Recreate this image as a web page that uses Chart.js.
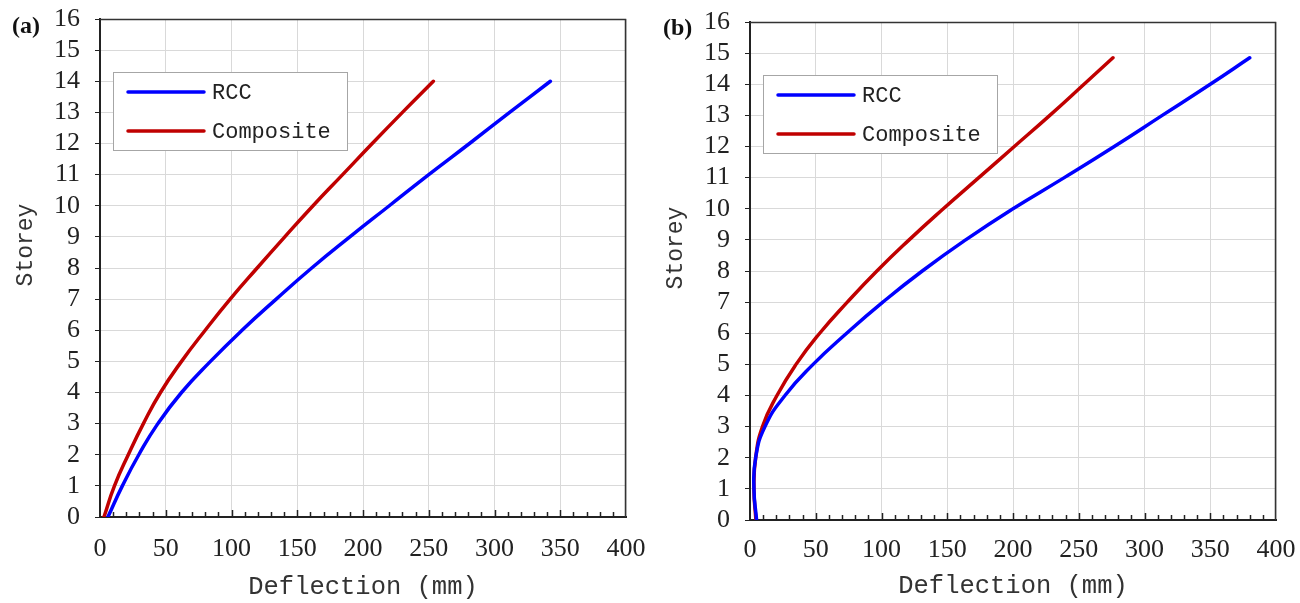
<!DOCTYPE html>
<html>
<head>
<meta charset="utf-8">
<title>Storey deflection: RCC vs Composite</title>
<script src="https://cdn.jsdelivr.net/npm/chart.js@4.4.1/dist/chart.umd.min.js"></script>
<style>
    html, body { margin: 0; padding: 0; background: #fff; }
    #wrap { position: relative; width: 1300px; height: 603px; }
    .panel { position: absolute; top: 0; width: 650px; height: 603px; }
    .tag { position: absolute; font: bold 24px "Liberation Serif", "Times New Roman", serif; color: #111; line-height: 28px; }
</style>
</head>
<body>
<div id="wrap">
    <div class="panel" style="left:0"><canvas id="chartA" width="650" height="603"></canvas></div>
    <div class="panel" style="left:650px"><canvas id="chartB" width="650" height="603"></canvas></div>
    <div class="tag" style="left:12px;top:11px">(a)</div>
    <div class="tag" style="left:663px;top:13px">(b)</div>
</div>
<script>
// Panel (a) data: storey level and deflection (mm)
const storeysA    = [0, 1, 2, 3, 4, 5, 6, 7, 8, 9, 10, 11, 12, 13, 14];
const rccA        = [6, 17, 29.5, 44, 62, 84, 108, 134, 161, 190, 220, 250, 281, 311.5, 342.5];
const compositeA  = [3, 11, 21.5, 33, 46, 62, 80, 99, 119.5, 140.5, 162, 184.5, 207, 230, 253.5];

// Panel (b) data
const storeysB    = [0, 1, 2, 3, 4, 5, 6, 7, 8, 9, 10, 11, 12, 13, 14, 14.85];
const rccB        = [5, 3, 4.3, 11.4, 26.6, 48, 73.5, 101, 131, 164, 200, 239, 277, 313.5, 350, 380];
const compositeB  = [4.5, 3, 4.3, 9.5, 20.5, 35, 53, 74, 96.5, 121, 147, 174, 201, 228, 254, 276];

// Series and axis settings
const seriesLabels = ['RCC', 'Composite'];
const seriesColors = ['#0000ff', '#c00000'];
const xTitle = 'Deflection (mm)';
const yTitle = 'Storey';
const xMax = 400, xMajor = 50, xMinor = 10;
const yMax = 16, yStep = 1;

const TICK_FONT = '"Liberation Serif", "Times New Roman", serif';
const MONO_FONT = '"Liberation Mono", "Courier New", monospace';

// Inward ticks on the bottom axis, top/right frame edges and the y title
const framePlugin = {
    id: 'frame',
    afterDraw(chart) {
        const { ctx, chartArea: a, scales: { x } } = chart;
        ctx.save();
        ctx.strokeStyle = '#222';
        ctx.lineWidth = 1.5;
        for (let v = xMinor; v < xMax; v += xMinor) {
            const px = Math.round(x.getPixelForValue(v)) + 0.5;
            const len = v % xMajor === 0 ? 7 : 5;
            ctx.beginPath();
            ctx.moveTo(px, a.bottom);
            ctx.lineTo(px, a.bottom - len);
            ctx.stroke();
        }
        ctx.strokeStyle = '#333';
        ctx.beginPath();
        ctx.moveTo(a.left, a.top + 0.5);
        ctx.lineTo(a.right - 0.5, a.top + 0.5);
        ctx.lineTo(a.right - 0.5, a.bottom);
        ctx.stroke();

        // y axis title sits a little above the middle of the axis
        ctx.translate(26, (a.top + a.bottom) / 2 - 23);
        ctx.rotate(-Math.PI / 2);
        ctx.font = '23px ' + MONO_FONT;
        ctx.fillStyle = '#333';
        ctx.textAlign = 'center';
        ctx.textBaseline = 'middle';
        ctx.fillText(yTitle, 0, 0);
        ctx.restore();
    }
};

// Boxed legend inside the plot, upper left
const legendBoxPlugin = {
    id: 'legendBox',
    afterDraw(chart) {
        const { ctx, chartArea: a } = chart;
        const left = a.left + 13, top = a.top + 53, w = 234, h = 78;
        ctx.save();
        ctx.fillStyle = '#fff';
        ctx.fillRect(left, top, w, h);
        ctx.strokeStyle = '#a6a6a6';
        ctx.lineWidth = 1;
        ctx.strokeRect(left + 0.5, top + 0.5, w, h);
        ctx.font = '22px ' + MONO_FONT;
        ctx.textBaseline = 'middle';
        chart.data.datasets.forEach((ds, i) => {
            const y = top + 20 + i * 39;
            ctx.strokeStyle = ds.borderColor;
            ctx.lineWidth = 3.5;
            ctx.lineCap = 'round';
            ctx.beginPath();
            ctx.moveTo(left + 15, y);
            ctx.lineTo(left + 91, y);
            ctx.stroke();
            ctx.fillStyle = '#222';
            ctx.fillText(ds.label, left + 99, y + 1);
        });
        ctx.restore();
    }
};

function toPoints(xs, ys) {
    return xs.map((v, i) => ({ x: v, y: ys[i] }));
}

// Create one deflection panel
function createPanel(canvasId, storeys, rcc, composite, layout) {
    const ctx = document.getElementById(canvasId).getContext('2d');
    return new Chart(ctx, {
        type: 'line',
        data: {
            datasets: [rcc, composite].map((vals, i) => ({
                label: seriesLabels[i],
                data: toPoints(vals, storeys),
                tension: 0.5,
                fill: false,
                borderColor: seriesColors[i],
                backgroundColor: seriesColors[i],
                borderWidth: 3.5,
                pointRadius: 0,
                borderCapStyle: 'round',
                borderJoinStyle: 'round'
            }))
        },
        options: {
            responsive: false,
            animation: false,
            layout: { padding: { top: layout.top, right: 24, left: 0, bottom: 0 } },
            plugins: {
                legend: { display: false },
                tooltip: { enabled: false }
            },
            scales: {
                x: {
                    type: 'linear',
                    min: 0,
                    max: xMax,
                    ticks: {
                        stepSize: xMajor,
                        padding: layout.xPad,
                        color: '#222',
                        maxRotation: 0,
                        autoSkip: false,
                        font: { family: TICK_FONT, size: 26 }
                    },
                    grid: { color: '#d9d9d9', lineWidth: 1, drawTicks: false },
                    border: { color: '#222', width: 2 },
                    title: {
                        display: true,
                        text: xTitle,
                        color: '#333',
                        padding: { top: 0, bottom: layout.titlePad },
                        font: { family: MONO_FONT, size: 25.5 }
                    },
                    afterFit(scale) {
                        scale.height = layout.xHeight;
                        scale.paddingLeft = 0;
                        scale.paddingRight = 0;
                    }
                },
                y: {
                    type: 'linear',
                    min: 0,
                    max: yMax,
                    ticks: {
                        stepSize: yStep,
                        autoSkip: false,
                        padding: 15,
                        color: '#222',
                        font: { family: TICK_FONT, size: 26 }
                    },
                    grid: { color: '#d9d9d9', lineWidth: 1, tickColor: '#222', tickLength: 5 },
                    border: { color: '#222', width: 2 },
                    afterFit(scale) {
                        scale.width = 100;
                        scale.paddingTop = 0;
                        scale.paddingBottom = 0;
                    }
                }
            }
        },
        plugins: [framePlugin, legendBoxPlugin]
    });
}

createPanel('chartA', storeysA, rccA, compositeA, { top: 19, xHeight: 86, xPad: 17, titlePad: 0 });
createPanel('chartB', storeysB, rccB, compositeB, { top: 22, xHeight: 83, xPad: 15, titlePad: 1 });
</script>
</body>
</html>
